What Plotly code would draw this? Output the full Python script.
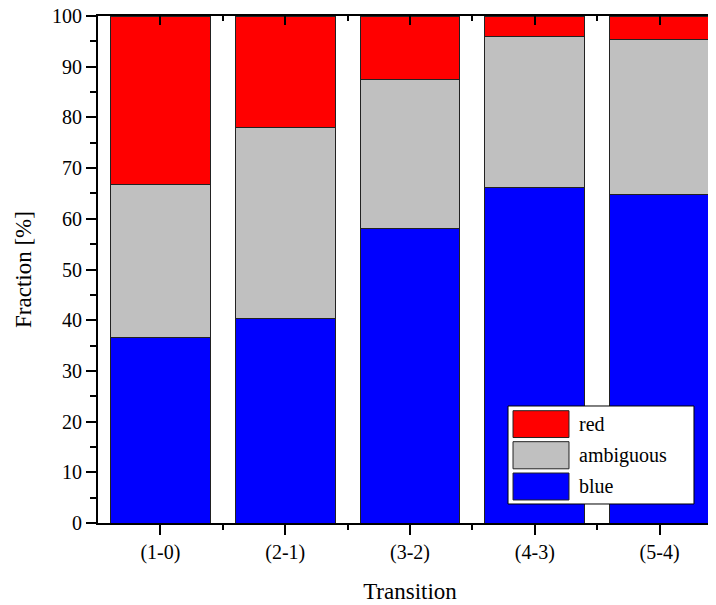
import plotly.graph_objects as go

categories = ["(1-0)", "(2-1)", "(3-2)", "(4-3)", "(5-4)"]
blue = [36.5, 40.3, 58.1, 66.2, 64.8]
ambiguous = [30.2, 37.7, 29.4, 29.7, 30.5]
red = [33.3, 22.0, 12.5, 4.1, 4.7]
series_names = ["red", "ambiguous", "blue"]
series_colors = {"red": "#FF0000", "ambiguous": "#C0C0C0", "blue": "#0000FF"}
y_ticks = [0, 10, 20, 30, 40, 50, 60, 70, 80, 90, 100]

FONT = "Liberation Serif"
xpos = list(range(len(categories)))

fig = go.Figure()
for name, vals in [("blue", blue), ("ambiguous", ambiguous), ("red", red)]:
    fig.add_trace(go.Bar(
        x=xpos, y=vals, name=name, width=0.8,
        marker=dict(color=series_colors[name], line=dict(color="#222222", width=1)),
        showlegend=False, hoverinfo="skip",
    ))

XR = [-0.5, 4.5]
fig.update_layout(
    width=716, height=605,
    margin=dict(l=90, r=2, t=8, b=90),
    paper_bgcolor="white", plot_bgcolor="white",
    barmode="stack",
    font=dict(family=FONT, color="black", size=20),
    xaxis=dict(
        range=XR, tickmode="array", tickvals=xpos, ticktext=categories,
        showline=True, linecolor="black", linewidth=2,
        ticks="outside", ticklen=10, tickwidth=2, tickcolor="black",
        showgrid=False, zeroline=False, automargin=False,
        minor=dict(tickmode="array", tickvals=[0.5, 1.5, 2.5, 3.5], ticks="outside", ticklen=5, tickwidth=2, tickcolor="black"),
        title=dict(text="Transition", font=dict(size=23), standoff=20),
        tickfont=dict(size=20),
    ),
    xaxis2=dict(
        range=XR, overlaying="x", side="top", tickmode="array", tickvals=xpos,
        showticklabels=False, showline=True, linecolor="black", linewidth=2,
        ticks="inside", ticklen=9, tickwidth=2, tickcolor="black",
        showgrid=False, zeroline=False, automargin=False,
        minor=dict(tickmode="array", tickvals=[0.5, 1.5, 2.5, 3.5], ticks="inside", ticklen=5, tickwidth=2, tickcolor="black"),
    ),
    yaxis=dict(
        range=[0, 100], tickmode="array", tickvals=y_ticks,
        showline=True, linecolor="black", linewidth=2,
        ticks="outside", ticklen=10, tickwidth=2, tickcolor="black",
        showgrid=False, zeroline=False, automargin=False,
        ticklabeloverflow="allow",
        minor=dict(tickmode="array", tickvals=[5, 15, 25, 35, 45, 55, 65, 75, 85, 95], ticks="outside", ticklen=6, tickwidth=2, tickcolor="black"),
        title=dict(text="Fraction [%]", font=dict(size=23), standoff=14),
        tickfont=dict(size=20),
    ),
    yaxis2=dict(
        range=[0, 100], overlaying="y", side="right", tickmode="array", tickvals=y_ticks,
        showticklabels=False, showline=True, linecolor="black", linewidth=2,
        ticks="inside", ticklen=10, tickwidth=2, tickcolor="black",
        showgrid=False, zeroline=False, automargin=False,
        minor=dict(tickmode="array", tickvals=[5, 15, 25, 35, 45, 55, 65, 75, 85, 95], ticks="inside", ticklen=5, tickwidth=2, tickcolor="black"),
    ),
)
# invisible trace to activate mirrored axes
fig.add_trace(go.Scatter(x=[0], y=[0], xaxis="x2", yaxis="y2", mode="markers",
                         marker=dict(opacity=0), showlegend=False, hoverinfo="skip"))

# manual legend (paper coordinates)
fig.add_shape(type="rect", xref="paper", yref="paper", x0=0.6571, x1=0.9551, y0=0.0375, y1=0.2308,
              fillcolor="white", line=dict(color="black", width=1), layer="above")
sw_x0, sw_x1 = 0.6651, 0.7548
rows = [("red", 0.1686, 0.2215), ("ambiguous", 0.1069, 0.1604), ("blue", 0.0454, 0.0986)]
for name, y0, y1 in rows:
    fig.add_shape(type="rect", xref="paper", yref="paper", x0=sw_x0, x1=sw_x1, y0=y0, y1=y1,
                  fillcolor=series_colors[name], line=dict(color="#222222", width=1), layer="above")
    fig.add_annotation(xref="paper", yref="paper", x=0.7676, y=(y0 + y1) / 2, text=name,
                       showarrow=False, xanchor="left", yanchor="middle",
                       font=dict(family=FONT, size=20, color="black"))

fig.write_html("out.html")
